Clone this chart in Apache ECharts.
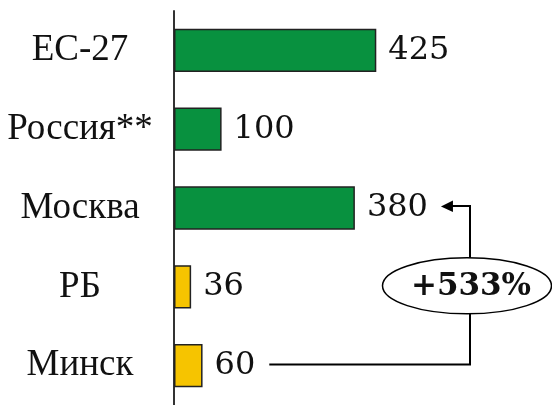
<!DOCTYPE html>
<html>
<head>
<meta charset="utf-8">
<script src="https://cdn.jsdelivr.net/npm/echarts@6/dist/echarts.min.js"></script>
<style>
  html, body { margin: 0; padding: 0; background: #fff; }
  #chart { width: 552px; height: 405px; }
</style>
</head>
<body>
<div id="chart"></div>
<script>
// Regions, top to bottom
const categories = ['ЕС-27', 'Россия**', 'Москва', 'РБ', 'Минск'];
// Values per region
const values = [425, 100, 380, 36, 60];
// Bar fill per region (green: EU/Russia/Moscow, yellow: Belarus/Minsk)
const barColors = ['#08913F', '#08913F', '#08913F', '#F6C400', '#F6C400'];
// Growth callout between Минск and Москва
const growthLabel = '+533%';
const growthFrom = 'Минск';
const growthTo = 'Москва';

const CAT_FONT = '"Liberation Serif", "DejaVu Serif", serif';
const CAT_SIZE = 37;
const VAL_FONT = '"DejaVu Serif", serif';
const VAL_SIZE = 32;
const LABEL_GAP = 12;

const chart = echarts.init(document.getElementById('chart'), null, { renderer: 'canvas' });

chart.setOption({
  animation: false,
  backgroundColor: '#ffffff',
  grid: { left: 174, top: 11, width: 238, height: 400, containLabel: false },
  xAxis: {
    type: 'value', min: 0, max: 500,
    show: false
  },
  yAxis: {
    type: 'category',
    data: categories,
    inverse: true,
    axisLine: { show: true, lineStyle: { color: '#333', width: 2 } },
    axisTick: { show: false },
    axisLabel: {
      margin: 94, align: 'center',
      fontFamily: CAT_FONT, fontSize: CAT_SIZE, color: '#111'
    }
  },
  series: [{
    type: 'bar',
    barCategoryGap: '45%',
    data: values.map((v, i) => ({ value: v, itemStyle: { color: barColors[i] } })),
    itemStyle: { borderColor: '#222', borderWidth: 1.5 },
    label: {
      show: true, position: 'right', distance: LABEL_GAP,
      fontFamily: VAL_FONT, fontSize: VAL_SIZE, color: '#111'
    }
  }]
});

// Callout: bracket from the Минск value to the Москва value, with an oval badge
function textWidth(str) {
  const ctx = document.createElement('canvas').getContext('2d');
  ctx.font = VAL_SIZE + 'px ' + VAL_FONT;
  return ctx.measureText(str).width;
}
const iFrom = categories.indexOf(growthFrom);
const iTo = categories.indexOf(growthTo);
const yFrom = chart.convertToPixel({ yAxisIndex: 0 }, growthFrom) - 1;
const yTo = chart.convertToPixel({ yAxisIndex: 0 }, growthTo) - 2;
const fromEnd = chart.convertToPixel({ xAxisIndex: 0 }, values[iFrom]) + LABEL_GAP + textWidth(String(values[iFrom])) + 14;
const toEnd = chart.convertToPixel({ xAxisIndex: 0 }, values[iTo]) + LABEL_GAP + textWidth(String(values[iTo])) + 13;
const bracketX = 470;
const ovalCx = 467, ovalCy = (yFrom + yTo) / 2 + 0.5;

chart.setOption({
  graphic: [
    {
      type: 'polyline', silent: true,
      shape: { points: [[fromEnd, yFrom], [bracketX, yFrom], [bracketX, yTo], [toEnd + 11, yTo]] },
      style: { stroke: '#000', lineWidth: 2, fill: null }
    },
    {
      type: 'polygon', silent: true,
      shape: { points: [[toEnd, yTo + 0.5], [toEnd + 12, yTo - 5.5], [toEnd + 12, yTo + 6]] },
      style: { fill: '#000' }
    },
    {
      type: 'ellipse', silent: true,
      shape: { cx: ovalCx, cy: ovalCy, rx: 84.5, ry: 28 },
      style: { fill: '#fff', stroke: '#000', lineWidth: 1.5 }
    },
    {
      type: 'text', silent: true,
      x: 471, y: ovalCy + 1,
      style: {
        text: growthLabel, align: 'center', verticalAlign: 'middle',
        font: 'bold 31px "DejaVu Serif", serif', fill: '#111'
      }
    }
  ]
});
</script>
</body>
</html>
